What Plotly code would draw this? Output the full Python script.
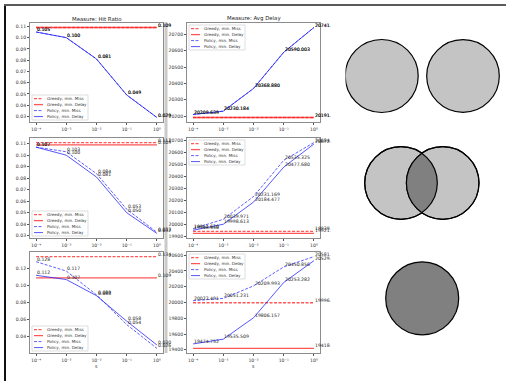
import numpy as np
import plotly.graph_objects as go

W, H = 506, 381
FONT = "DejaVu Sans"

# ---------------------------------------------------------------- data
s_values = [1e-4, 1e-3, 1e-2, 1e-1, 1.0]
s_ticks = [1e-4, 1e-3, 1e-2, 1e-1, 1.0]
s_tick_labels = ["10⁻⁴", "10⁻³", "10⁻²", "10⁻¹", "10⁰"]

series_names = ["Greedy, min. Miss", "Greedy, min. Delay",
                "Policy, min. Miss", "Policy, min. Delay"]
panel_titles = ["Measure: Hit Ratio", "Measure: Avg Delay"]

# Hit ratio (one value per scenario row for the greedy baselines)
hit_greedy_miss = [0.109, 0.111, 0.134]
hit_greedy_delay = [0.109, 0.109, 0.109]
hit_policy_miss_r1 = [0.105, 0.100, 0.081, 0.049, 0.029]
hit_policy_delay_r1 = [0.105, 0.100, 0.081, 0.049, 0.029]
hit_policy_miss_r2 = [0.107, 0.103, 0.084, 0.053, 0.033]
hit_policy_delay_r2 = [0.107, 0.100, 0.081, 0.050, 0.032]
hit_policy_miss_r3 = [0.128, 0.117, 0.089, 0.054, 0.026]
hit_policy_delay_r3 = [0.112, 0.107, 0.088, 0.058, 0.030]

# Average delay
delay_greedy_miss = [20191.517, 19939.204, 19996.437]
delay_greedy_delay = [20191.517, 19921.386, 19418.295]
delay_policy_miss_r1 = [20209.639, 20230.184, 20368.880, 20590.003, 20741.236]
delay_policy_delay_r1 = [20209.639, 20230.184, 20368.880, 20590.003, 20741.236]
delay_policy_miss_r2 = [19961.620, 20039.971, 20231.169, 20535.325, 20684.210]
delay_policy_delay_r2 = [19948.450, 19998.613, 20184.477, 20477.680, 20672.540]
delay_policy_miss_r3 = [20022.491, 20051.231, 20209.993, 20450.856, 20581.430]
delay_policy_delay_r3 = [19474.752, 19535.509, 19806.157, 20253.282, 20529.610]

hit_dtick = [0.01, 0.01, 0.02]
delay_dtick = [100, 100, 200]

hit_rows = [
    (hit_greedy_miss[0], hit_greedy_delay[0], hit_policy_miss_r1, hit_policy_delay_r1),
    (hit_greedy_miss[1], hit_greedy_delay[1], hit_policy_miss_r2, hit_policy_delay_r2),
    (hit_greedy_miss[2], hit_greedy_delay[2], hit_policy_miss_r3, hit_policy_delay_r3),
]
delay_rows = [
    (delay_greedy_miss[0], delay_greedy_delay[0], delay_policy_miss_r1, delay_policy_delay_r1),
    (delay_greedy_miss[1], delay_greedy_delay[1], delay_policy_miss_r2, delay_policy_delay_r2),
    (delay_greedy_miss[2], delay_greedy_delay[2], delay_policy_miss_r3, delay_policy_delay_r3),
]

# ---------------------------------------------------------------- layout helpers
col_px = [(30, 163), (187, 320)]
row_px = [(23, 122), (138, 238), (252, 353)]


def fx(px):
    return px / W


def fy(py):
    return 1 - py / H


styles = [
    dict(color="rgba(255,30,30,0.75)", width=1.3, dash="3px,1.5px"),
    dict(color="rgba(255,30,30,0.75)", width=1.3, dash="solid"),
    dict(color="rgba(20,20,255,0.75)", width=0.9, dash="3px,1.5px"),
    dict(color="rgba(20,20,255,0.8)", width=0.9, dash="solid"),
]

fig = go.Figure()
annotations = []
shapes = []
layout_axes = {}


def padded(vals):
    lo, hi = min(vals), max(vals)
    span = hi - lo
    return [lo - 0.05 * span, hi + 0.05 * span]


for r in range(3):
    for c in range(2):
        idx = r * 2 + c + 1
        xa = "x" if idx == 1 else f"x{idx}"
        ya = "y" if idx == 1 else f"y{idx}"
        g_miss, g_delay, p_miss, p_delay = (hit_rows if c == 0 else delay_rows)[r]
        series = [[g_miss] * len(s_values), [g_delay] * len(s_values), p_miss, p_delay]
        fmt = "{:.3f}"

        for k, (name, ys) in enumerate(zip(series_names, series)):
            fig.add_trace(go.Scatter(
                x=s_values, y=ys, mode="lines", name=name, xaxis=xa, yaxis=ya,
                line=styles[k], showlegend=False, hoverinfo="skip"))
            label_idx = [len(s_values) - 1] if k < 2 else range(len(s_values))
            for j in label_idx:
                annotations.append(dict(
                    x=np.log10(s_values[j]), y=ys[j], xref=xa, yref=ya,
                    text=fmt.format(ys[j]), showarrow=False,
                    xanchor="left", yanchor="bottom", borderpad=0, yshift=-1,
                    font=dict(family=FONT, size=4.6, color="#222")))

        all_vals = [v for ys in series for v in ys]
        x0, x1 = col_px[c]
        y0, y1 = row_px[r]
        axis_common = dict(
            showline=True, mirror=True, linecolor="#8c8c8c", linewidth=1,
            showgrid=False, zeroline=False, ticks="outside", ticklen=2,
            tickwidth=0.6, tickcolor="#555",
            tickfont=dict(family=FONT, size=4.6, color="#333"))
        layout_axes["xaxis" if idx == 1 else f"xaxis{idx}"] = dict(
            axis_common, type="log", range=[-4.2, 0.2],
            domain=[fx(x0), fx(x1)], anchor=ya,
            tickmode="array", tickvals=s_ticks, ticktext=s_tick_labels)
        layout_axes["yaxis" if idx == 1 else f"yaxis{idx}"] = dict(
            axis_common, range=padded(all_vals),
            domain=[fy(y1), fy(y0)], anchor=xa,
            dtick=hit_dtick[r] if c == 0 else delay_dtick[r],
            tickformat=".2f" if c == 0 else "d")

        # legend box: lower-left for hit ratio, upper-left for delay
        bw, bh = 56, 25
        bl = x0 + 2
        bt = (y1 - 2 - bh) if c == 0 else (y0 + 2)
        shapes.append(dict(type="rect", xref="paper", yref="paper",
                           x0=fx(bl), x1=fx(bl + bw), y0=fy(bt + bh), y1=fy(bt),
                           line=dict(color="#d0d0d0", width=0.7),
                           fillcolor="rgba(255,255,255,0.85)", layer="above"))
        for k, name in enumerate(series_names):
            yy = bt + 3.6 + k * 6.0
            shapes.append(dict(type="line", xref="paper", yref="paper",
                               x0=fx(bl + 2), x1=fx(bl + 11), y0=fy(yy), y1=fy(yy),
                               line=styles[k], layer="above"))
            annotations.append(dict(
                x=fx(bl + 13.5), y=fy(yy), xref="paper", yref="paper",
                text=name, showarrow=False, xanchor="left", yanchor="middle",
                borderpad=0, font=dict(family=FONT, size=4.1, color="#333")))

# panel titles and x-axis labels
for c in range(2):
    x0, x1 = col_px[c]
    annotations.append(dict(
        x=fx((x0 + x1) / 2), y=fy(19), xref="paper", yref="paper",
        text=panel_titles[c], showarrow=False, xanchor="center", yanchor="middle",
        font=dict(family=FONT, size=5.4, color="#222")))
    annotations.append(dict(
        x=fx((x0 + x1) / 2), y=fy(366), xref="paper", yref="paper",
        text="s", showarrow=False, xanchor="center", yanchor="middle",
        font=dict(family=FONT, size=4.8, color="#333")))

# strip where the delay column ends
annotations.append(dict(
    x=fx(330), y=fy(8), xref="paper", yref="paper", text=" ",
    showarrow=False, xanchor="left", yanchor="top", width=14, height=365,
    bgcolor="white", borderpad=0))

# column separator and outer frame
shapes.append(dict(type="line", xref="paper", yref="paper",
                   x0=fx(166), x1=fx(166), y0=fy(22), y1=fy(353),
                   line=dict(color="#cacaca", width=3), layer="below"))
shapes.append(dict(type="line", xref="paper", yref="paper",
                   x0=fx(5), x1=fx(5), y0=fy(5), y1=fy(H + 2),
                   line=dict(color="#111", width=2)))
shapes.append(dict(type="line", xref="paper", yref="paper",
                   x0=fx(4), x1=fx(W + 2), y0=fy(5), y1=fy(5),
                   line=dict(color="#5a5a5a", width=2)))

# ---------------------------------------------------------------- set diagram
light, dark = "#c4c4c4", "#808080"
circles = [  # (cx, cy, r, fill) in pixels
    (381.7, 76.0, 36.5, light),
    (463.0, 76.0, 36.3, light),
    (401.0, 183.0, 36.3, light),
    (442.7, 183.0, 36.3, light),
    (422.2, 298.3, 36.5, dark),
]


def circle_shape(cx, cy, r, fill, line_w):
    return dict(type="circle", xref="paper", yref="paper",
                x0=fx(cx - r), x1=fx(cx + r), y0=fy(cy + r), y1=fy(cy - r),
                fillcolor=fill, line=dict(color="black", width=line_w))


for cx, cy, r, fill in circles:
    shapes.append(circle_shape(cx, cy, r, fill, 1.2))

# overlap of the middle pair
(ax, ay, ar, _), (bx, by, br, _) = circles[2], circles[3]
d = bx - ax
a = (d * d + ar * ar - br * br) / (2 * d)
hh = np.sqrt(ar * ar - a * a)
t1 = np.arctan2(hh, a)
t2 = np.arctan2(hh, -(d - a))
ang1 = np.linspace(-t1, t1, 60)
ang2 = np.linspace(t2, 2 * np.pi - t2, 60)
pts = [(ax + ar * np.cos(t), ay + ar * np.sin(t)) for t in ang1]
pts += [(bx + br * np.cos(t), by + br * np.sin(t)) for t in ang2]
path = "M " + " L ".join(f"{fx(px):.5f},{fy(py):.5f}" for px, py in pts) + " Z"
shapes.append(dict(type="path", xref="paper", yref="paper", path=path,
                   fillcolor=dark, line=dict(width=0)))
for cx, cy, r, fill in circles[2:4]:
    shapes.append(circle_shape(cx, cy, r, "rgba(0,0,0,0)", 1.2))

fig.update_layout(
    width=W, height=H, margin=dict(l=0, r=0, t=0, b=0),
    paper_bgcolor="white", plot_bgcolor="white", showlegend=False,
    annotations=annotations, shapes=shapes, **layout_axes)

fig.write_html("out.html")
